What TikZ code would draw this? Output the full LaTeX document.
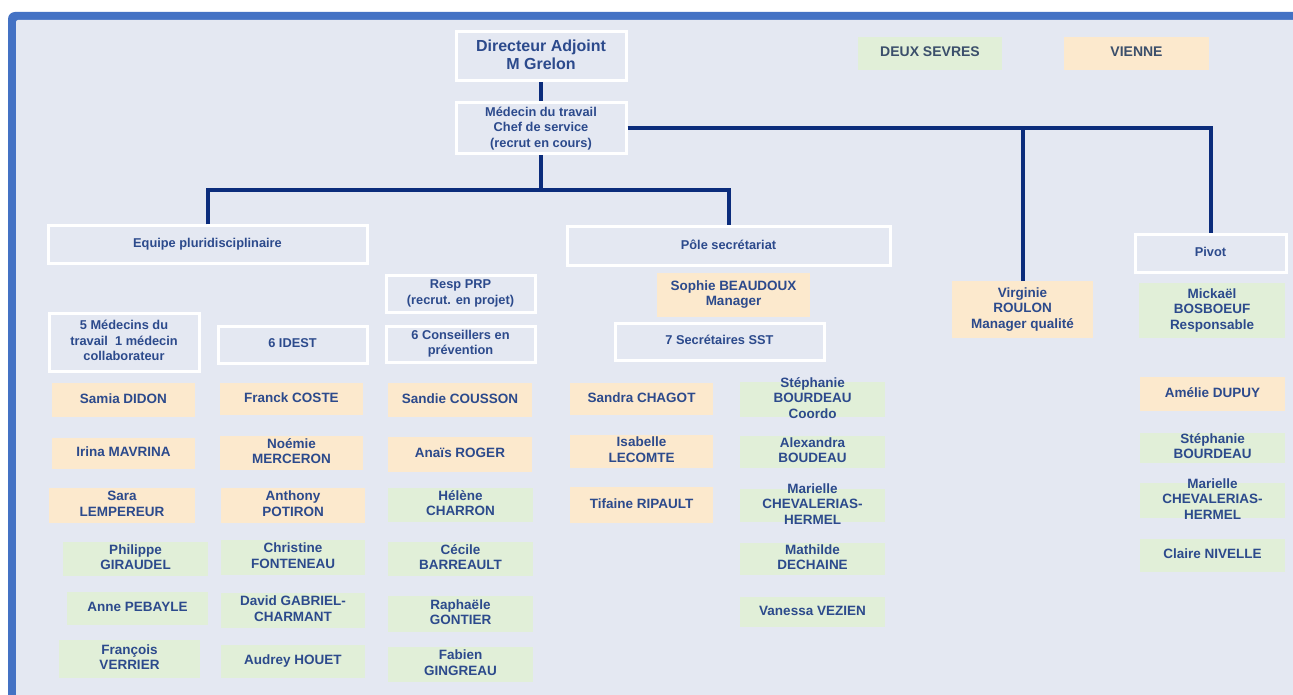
\documentclass[tikz,border=0pt]{standalone}
\usepackage{fontspec}
\usepackage{calc}
\setmainfont{Liberation Sans}
\definecolor{bgcol}{HTML}{E4E8F2}
\definecolor{framecol}{HTML}{4472C4}
\definecolor{linecol}{HTML}{0B2C7C}
\definecolor{txtcol}{HTML}{2C4A8C}
\definecolor{dstxt}{HTML}{3B4F6B}
\definecolor{orgfill}{HTML}{FCE9CD}
\definecolor{grnfill}{HTML}{E1EFD8}
\newcommand\Tx[1]{\raisebox{0.5\depth-0.5\height}[0pt][0pt]{\begin{tabular}{@{}c@{}}#1\end{tabular}}}
\newcommand\bx[7]{\node[#1, minimum width={#5-#3}, minimum height={#6-#4}] (#2) at ({(#3+#5)/2},{(#4+#6)/2}) {\Tx{#7}};}
\tikzset{
  base/.style={text=txtcol, font=\bfseries\fontsize{13.5}{15.5}\selectfont, inner sep=0pt, rectangle},
  hdr/.style={base, fill=bgcol, draw=white, line width=3pt, font=\bfseries\fontsize{12.8}{15.5}\selectfont},
  org/.style={base, fill=orgfill},
  grn/.style={base, fill=grnfill},
  conn/.style={draw=linecol, line width=4pt, line join=miter, line cap=butt},
}
\begin{document}
\begin{tikzpicture}[x=1pt, y=-1pt]
\useasboundingbox (0,0) rectangle (1293,695);
\begin{scope}
\clip (0,0) rectangle (1293,695);
\fill[white] (0,0) rectangle (1293,695);
\fill[framecol, rounded corners=7pt] (8,12) rectangle (1330,730);
\fill[bgcol, rounded corners=2pt] (16,20) rectangle (1330,730);
\end{scope}

% top
\bx{hdr, font=\bfseries\fontsize{16}{18}\selectfont}{dir}{456}{32}{626}{81}{Directeur Adjoint\\M Grelon}
\bx{hdr}{med}{456}{103}{626}{154}{Médecin du travail\\Chef de service\\(recrut en cours)}
\bx{grn, text=dstxt, font=\bfseries\fontsize{14}{16}\selectfont}{ds}{858}{37}{1002}{70}{DEUX SEVRES}
\bx{org, text=dstxt, font=\bfseries\fontsize{14}{16}\selectfont}{vienne}{1064}{37}{1209}{70}{VIENNE}

% headers
\bx{hdr}{equipe}{48}{226}{367}{263}{Equipe pluridisciplinaire}
\bx{hdr}{pole}{567}{227}{890}{265}{Pôle secrétariat}
\bx{hdr}{pivot}{1135}{235}{1286}{272}{Pivot}

% sub headers
\bx{hdr}{medc}{49}{313}{199}{371}{5 Médecins du\\travail\ \ 1 médecin\\collaborateur}
\bx{hdr}{idest}{218}{326}{367}{363}{6 IDEST}
\bx{hdr}{resp}{386}{275}{535}{312}{Resp PRP\\(recrut. en projet)}
\bx{hdr}{cons}{386}{326}{535}{362}{6 Conseillers en\\prévention}
\bx{org}{sophie}{657}{273}{810}{317}{Sophie BEAUDOUX\\Manager}
\bx{hdr}{sec}{615}{323}{824}{360}{7 Secrétaires SST}
\bx{org}{virg}{952}{281}{1093}{338}{Virginie\\ROULON\\Manager qualité}
\bx{grn}{mick}{1139}{283}{1285}{338}{Mickaël\\BOSBOEUF\\Responsable}

% column 1
\bx{org}{samia}{52}{383}{195}{417}{Samia DIDON}
\bx{org}{irina}{52}{438}{195}{469}{Irina MAVRINA}
\bx{org}{sara}{49}{488}{195}{523}{Sara\\LEMPEREUR}
\bx{grn}{philippe}{63}{542}{208}{576}{Philippe\\GIRAUDEL}
\bx{grn}{anne}{67}{592}{208}{625}{Anne PEBAYLE}
\bx{grn}{francois}{59}{640}{200}{678}{François\\VERRIER}

% column 2
\bx{org}{franck}{220}{383}{363}{415}{Franck COSTE}
\bx{org}{noemie}{220}{436}{363}{470}{Noémie\\MERCERON}
\bx{org}{anthony}{221}{488}{365}{523}{Anthony\\POTIRON}
\bx{grn}{christine}{221}{540}{365}{575}{Christine\\FONTENEAU}
\bx{grn}{david}{221}{593}{365}{628}{David GABRIEL-\\CHARMANT}
\bx{grn}{audrey}{221}{645}{365}{678}{Audrey HOUET}

% column 3
\bx{org}{sandie}{388}{383}{532}{417}{Sandie COUSSON}
\bx{org}{anais}{388}{437}{532}{472}{Anaïs ROGER}
\bx{grn}{helene}{388}{488}{533}{522}{Hélène\\CHARRON}
\bx{grn}{cecile}{388}{542}{533}{576}{Cécile\\BARREAULT}
\bx{grn}{raphaele}{388}{596}{533}{632}{Raphaële\\GONTIER}
\bx{grn}{fabien}{388}{647}{533}{682}{Fabien\\GINGREAU}

% column 4
\bx{org}{sandra}{570}{383}{713}{415}{Sandra CHAGOT}
\bx{org}{isabelle}{570}{435}{713}{468}{Isabelle\\LECOMTE}
\bx{org}{tifaine}{570}{487}{713}{523}{Tifaine RIPAULT}

% column 5
\bx{grn}{stephA}{740}{382}{885}{417}{Stéphanie\\BOURDEAU\\Coordo}
\bx{grn}{alexandra}{740}{436}{885}{468}{Alexandra\\BOUDEAU}
\bx{grn}{marielleA}{740}{489}{885}{522}{Marielle\\CHEVALERIAS-\\HERMEL}
\bx{grn}{mathilde}{740}{543}{885}{575}{Mathilde\\DECHAINE}
\bx{grn}{vanessa}{740}{597}{885}{627}{Vanessa VEZIEN}

% pivot column
\bx{org}{amelie}{1140}{377}{1285}{411}{Amélie DUPUY}
\bx{grn}{stephB}{1140}{433}{1285}{463}{Stéphanie\\BOURDEAU}
\bx{grn}{marielleB}{1140}{483}{1285}{518}{Marielle\\CHEVALERIAS-\\HERMEL}
\bx{grn}{claire}{1140}{539}{1285}{572}{Claire NIVELLE}

% connectors
\coordinate (j1) at (541,190);
\draw[conn] (dir.south) -- (med.north);
\draw[conn] (med.south) -- (j1);
\draw[conn] (equipe.north) |- (j1) -| (pole.north);
\draw[conn] (med.east) -| (pivot.north);
\draw[conn] (virg.north) -- (virg.north |- med.east);
\end{tikzpicture}
\end{document}
